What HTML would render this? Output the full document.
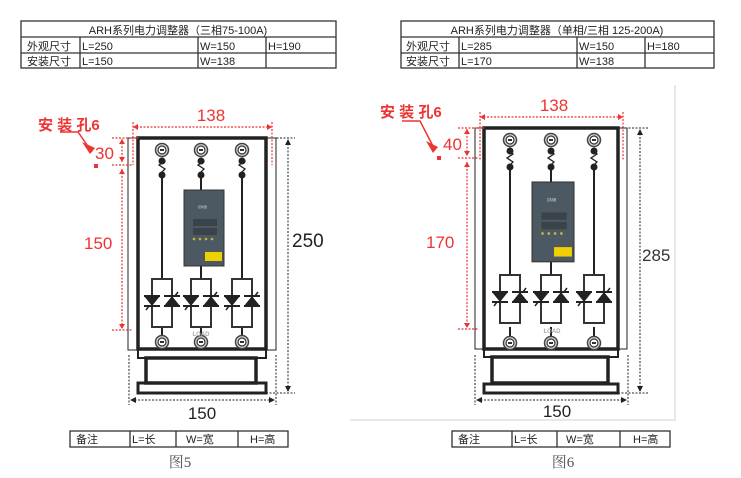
<!DOCTYPE html>
<html><head><meta charset="utf-8"><style>
body{margin:0;background:#fff;}
svg{display:block;font-family:"Liberation Sans","Noto Sans CJK SC",sans-serif;}
</style></head><body>
<svg width="741" height="478" viewBox="0 0 741 478" xmlns="http://www.w3.org/2000/svg">
<defs>
<g id="term"><circle r="6.5" fill="#ddd" stroke="#444" stroke-width="1.5"/><circle r="4" fill="#fff" stroke="#333" stroke-width="1.2"/><path d="M-2,-1 h4 v2 h-4z" fill="#333"/></g>
<g id="thy">
<rect x="-10" y="0" width="20" height="48" fill="none" stroke="#333" stroke-width="2"/>
<line x1="-18" y1="17" x2="-2" y2="17" stroke="#222" stroke-width="2"/>
<path d="M-18,17 L-2,17 L-10,27 Z" fill="#222"/>
<line x1="-18" y1="27" x2="-2" y2="27" stroke="#222" stroke-width="2"/>
<line x1="-16" y1="31" x2="-13" y2="27" stroke="#222" stroke-width="1.5"/>
<line x1="2" y1="17" x2="18" y2="17" stroke="#222" stroke-width="2"/>
<path d="M2,27 L18,27 L10,17 Z" fill="#222"/>
<line x1="2" y1="27" x2="18" y2="27" stroke="#222" stroke-width="2"/>
<line x1="13" y1="17" x2="16" y2="13" stroke="#222" stroke-width="1.5"/>
</g>
<g id="ctrl">
<rect x="0" y="0" width="40" height="76" fill="#4d5962" stroke="#333" stroke-width="1"/>
<rect x="9" y="29" width="24" height="7" fill="#3a434a"/>
<rect x="9" y="38" width="24" height="7" fill="#3a434a"/>
<g fill="#c9b23a"><circle cx="10" cy="49" r="1.3"/><circle cx="16" cy="49" r="1.3"/><circle cx="22" cy="49" r="1.3"/><circle cx="28" cy="49" r="1.3"/></g>
<rect x="21" y="62" width="17" height="9" fill="#f0d000"/>
<text x="14" y="18" font-size="3" fill="#ccc">控制器</text>
</g>
</defs>

<!-- top tables -->
<g stroke="#333" stroke-width="1.3" fill="none">
<rect x="21" y="21" width="315" height="47"/><line x1="21" y1="37" x2="336" y2="37"/><line x1="21" y1="53" x2="336" y2="53"/>
<line x1="80" y1="37" x2="80" y2="68"/><line x1="198" y1="37" x2="198" y2="68"/><line x1="266" y1="37" x2="266" y2="68"/>
<rect x="401" y="21" width="313" height="47"/><line x1="401" y1="37" x2="714" y2="37"/><line x1="401" y1="53" x2="714" y2="53"/>
<line x1="459" y1="37" x2="459" y2="68"/><line x1="577" y1="37" x2="577" y2="68"/><line x1="645" y1="37" x2="645" y2="68"/>
</g>
<g font-size="11" fill="#222">
<text x="178" y="34" text-anchor="middle">ARH系列电力调整器（三相75-100A)</text>
<text x="27" y="50">外观尺寸</text><text x="82" y="50">L=250</text><text x="200" y="50">W=150</text><text x="268" y="50">H=190</text>
<text x="27" y="65">安装尺寸</text><text x="82" y="65">L=150</text><text x="200" y="65">W=138</text>
<text x="557" y="34" text-anchor="middle">ARH系列电力调整器（单相/三相 125-200A)</text>
<text x="406" y="50">外观尺寸</text><text x="461" y="50">L=285</text><text x="579" y="50">W=150</text><text x="647" y="50">H=180</text>
<text x="406" y="65">安装尺寸</text><text x="461" y="65">L=170</text><text x="579" y="65">W=138</text>
</g>

<!-- right frame -->
<path d="M675,85 V420 H350" fill="none" stroke="#e6e8ee" stroke-width="2"/>

<!-- LEFT DIAGRAM -->
<g stroke="#222" fill="none">
<rect x="128" y="138" width="10" height="212" stroke-width="1"/>
<rect x="266" y="138" width="10" height="212" stroke-width="1"/>
<rect x="138" y="138" width="128" height="211" stroke-width="3.5"/>
<rect x="138" y="349" width="128" height="9" stroke-width="2"/>
<rect x="146" y="358" width="110" height="25" stroke-width="3.5"/>
<rect x="138" y="383" width="128" height="10" stroke-width="3"/>
<g stroke-width="2">
<line x1="162" y1="175" x2="162" y2="279"/><line x1="242" y1="175" x2="242" y2="279"/>
<line x1="201" y1="175" x2="201" y2="190"/><line x1="201" y1="265" x2="201" y2="279"/>
<line x1="162" y1="327" x2="162" y2="342"/><line x1="201" y1="327" x2="201" y2="342"/><line x1="242" y1="327" x2="242" y2="342"/>
<path d="M162,158 l3,3 -6,4 6,4 -3,3 M201,158 l3,3 -6,4 6,4 -3,3 M242,158 l3,3 -6,4 6,4 -3,3" stroke-width="1.3"/>
</g>
</g>
<g fill="#222"><circle cx="162" cy="161" r="3.5"/><circle cx="201" cy="161" r="3.5"/><circle cx="242" cy="161" r="3.5"/>
<circle cx="162" cy="175" r="3.5"/><circle cx="201" cy="175" r="3.5"/><circle cx="242" cy="175" r="3.5"/></g>
<use href="#term" x="162" y="150"/><use href="#term" x="201" y="150"/><use href="#term" x="242" y="150"/>
<use href="#term" x="162" y="342"/><use href="#term" x="201" y="342"/><use href="#term" x="242" y="342"/>
<use href="#thy" x="162" y="279"/><use href="#thy" x="201" y="279"/><use href="#thy" x="242" y="279"/>
<use href="#ctrl" x="184" y="190"/>
<text x="201" y="336" font-size="6" fill="#aaa" text-anchor="middle" font-weight="bold">LOAD</text>
<!-- left dims -->
<g stroke="#e33" stroke-width="1.2" stroke-dasharray="2,1.5" fill="none">
<line x1="133" y1="127" x2="272" y2="127"/><line x1="133" y1="122" x2="133" y2="165"/><line x1="272" y1="122" x2="272" y2="165"/>
<line x1="112" y1="138" x2="140" y2="138"/><line x1="112" y1="165" x2="132" y2="165"/>
<line x1="122" y1="139" x2="122" y2="162"/><line x1="122" y1="169" x2="122" y2="328"/><line x1="112" y1="330" x2="132" y2="330"/>
</g>
<g fill="#e33"><path d="M133,127 l5,-3 v6z M272,127 l-5,-3 v6z M122,139 l-3,5 h6z M122,162 l-3,-5 h6z M122,169 l-3,5 h6z M122,329 l-3,-5 h6z"/>
<path d="M82,142 L95,148 L90,154 Z"/><rect x="94" y="164" width="4" height="4"/></g>
<path d="M60,132 L78,132 L92,152" stroke="#e33" stroke-width="1.5" fill="none"/>
<g fill="#e33">
<text x="38" y="130" font-size="15" font-weight="bold">安 装 孔6</text>
<text x="211" y="121" font-size="17" text-anchor="middle">138</text>
<text x="95" y="159" font-size="17">30</text>
<text x="84" y="249" font-size="17">150</text>
</g>
<g stroke="#222" stroke-width="1" stroke-dasharray="2,1.5" fill="none">
<line x1="266" y1="138" x2="295" y2="138"/><line x1="266" y1="393" x2="295" y2="393"/>
<line x1="288" y1="140" x2="288" y2="390"/>
<line x1="129" y1="355" x2="129" y2="405"/><line x1="276" y1="355" x2="276" y2="405"/>
<line x1="131" y1="400" x2="274" y2="400"/>
</g>
<g fill="#222"><path d="M288,139 l-3,6 h6z M288,392 l-3,-6 h6z M130,400 l6,-3 v6z M275,400 l-6,-3 v6z"/></g>
<text x="292" y="247" font-size="19" fill="#222">250</text>
<text x="202" y="419" font-size="17" fill="#222" text-anchor="middle">150</text>

<!-- RIGHT DIAGRAM -->
<g stroke="#222" fill="none">
<rect x="475" y="128" width="9" height="221" stroke-width="1"/>
<rect x="618" y="128" width="9" height="221" stroke-width="1"/>
<rect x="484" y="128" width="134" height="221" stroke-width="3.5"/>
<rect x="484" y="349" width="134" height="8" stroke-width="2"/>
<rect x="492" y="357" width="116" height="26" stroke-width="3.5"/>
<rect x="484" y="384" width="134" height="9" stroke-width="3"/>
<g stroke-width="2">
<line x1="510" y1="167" x2="510" y2="275"/><line x1="594" y1="167" x2="594" y2="275"/>
<line x1="551" y1="167" x2="551" y2="182"/><line x1="551" y1="262" x2="551" y2="275"/>
<line x1="510" y1="327" x2="510" y2="343"/><line x1="551" y1="327" x2="551" y2="343"/><line x1="594" y1="327" x2="594" y2="343"/>
<path d="M510,151 l3,3 -6,4 6,4 -3,3 M551,151 l3,3 -6,4 6,4 -3,3 M594,151 l3,3 -6,4 6,4 -3,3" stroke-width="1.3"/>
</g>
</g>
<g fill="#222"><circle cx="510" cy="151" r="3.5"/><circle cx="551" cy="151" r="3.5"/><circle cx="594" cy="151" r="3.5"/>
<circle cx="510" cy="167" r="3.5"/><circle cx="551" cy="167" r="3.5"/><circle cx="594" cy="167" r="3.5"/></g>
<use href="#term" x="510" y="140"/><use href="#term" x="551" y="140"/><use href="#term" x="594" y="140"/>
<use href="#term" x="510" y="343"/><use href="#term" x="551" y="343"/><use href="#term" x="594" y="343"/>
<g transform="translate(0,-4)"><use href="#thy" x="510" y="279"/><use href="#thy" x="551" y="279"/><use href="#thy" x="594" y="279"/></g>
<use href="#ctrl" x="532" y="182" transform="translate(532,182) scale(1.05,1.05) translate(-532,-182)"/>
<text x="552" y="333" font-size="6" fill="#aaa" text-anchor="middle" font-weight="bold">LOAD</text>
<g stroke="#e33" stroke-width="1.2" stroke-dasharray="2,1.5" fill="none">
<line x1="480" y1="117" x2="623" y2="117"/><line x1="480" y1="112" x2="480" y2="160"/><line x1="623" y1="112" x2="623" y2="160"/>
<line x1="458" y1="128" x2="486" y2="128"/><line x1="458" y1="158" x2="478" y2="158"/>
<line x1="467" y1="129" x2="467" y2="156"/><line x1="467" y1="162" x2="467" y2="326"/><line x1="458" y1="329" x2="478" y2="329"/>
</g>
<g fill="#e33"><path d="M480,117 l5,-3 v6z M623,117 l-5,-3 v6z M467,129 l-3,5 h6z M467,156 l-3,-5 h6z M467,162 l-3,5 h6z M467,328 l-3,-5 h6z"/>
<path d="M426,141 L438,147 L433,153 Z"/><rect x="437" y="156" width="4" height="4"/></g>
<path d="M402,121 L420,121 L434,148" stroke="#e33" stroke-width="1.5" fill="none"/>
<g fill="#e33">
<text x="380" y="117" font-size="15" font-weight="bold">安 装 孔6</text>
<text x="554" y="111" font-size="17" text-anchor="middle">138</text>
<text x="443" y="150" font-size="17">40</text>
<text x="426" y="248" font-size="17">170</text>
</g>
<g stroke="#222" stroke-width="1" stroke-dasharray="2,1.5" fill="none">
<line x1="618" y1="128" x2="648" y2="128"/><line x1="618" y1="393" x2="648" y2="393"/>
<line x1="640" y1="130" x2="640" y2="390"/>
<line x1="475" y1="355" x2="475" y2="405"/><line x1="628" y1="355" x2="628" y2="405"/>
<line x1="477" y1="400" x2="626" y2="400"/>
</g>
<g fill="#222"><path d="M640,129 l-3,6 h6z M640,392 l-3,-6 h6z M476,400 l6,-3 v6z M627,400 l-6,-3 v6z"/></g>
<text x="642" y="261" font-size="17" fill="#333">285</text>
<text x="557" y="417" font-size="17" fill="#222" text-anchor="middle">150</text>

<!-- bottom tables -->
<g stroke="#333" stroke-width="1.3" fill="none">
<rect x="70" y="431" width="218" height="16"/><line x1="130" y1="431" x2="130" y2="447"/><line x1="176" y1="431" x2="176" y2="447"/><line x1="238" y1="431" x2="238" y2="447"/>
<rect x="452" y="431" width="218" height="16"/><line x1="512" y1="431" x2="512" y2="447"/><line x1="557" y1="431" x2="557" y2="447"/><line x1="620" y1="431" x2="620" y2="447"/>
</g>
<g font-size="11" fill="#222">
<text x="76" y="443">备注</text><text x="132" y="443">L=长</text><text x="186" y="443">W=宽</text><text x="250" y="443">H=高</text>
<text x="458" y="443">备注</text><text x="514" y="443">L=长</text><text x="566" y="443">W=宽</text><text x="633" y="443">H=高</text>
</g>
<g font-size="15" fill="#555" font-family="Liberation Serif,'Noto Serif CJK SC',serif">
<text x="180" y="467" text-anchor="middle">图5</text>
<text x="563" y="467" text-anchor="middle">图6</text>
</g>
</svg>
</body></html>
